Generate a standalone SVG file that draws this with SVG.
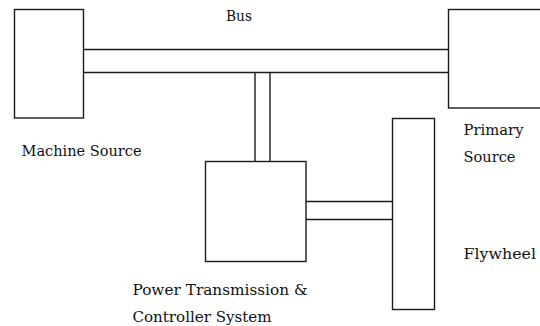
<svg xmlns="http://www.w3.org/2000/svg" width="540" height="326" viewBox="0 0 540 326">
<style>
.box{fill:#fff;stroke:#1a1a1a;stroke-width:1.4}
.ln{fill:none;stroke:#1a1a1a;stroke-width:1.4}
text{font-family:'DejaVu Serif',serif;font-size:14.5px;fill:#111}
</style>
<rect width="540" height="326" fill="#fff"/>
<g id="connectors">
<line class="ln" x1="83.5" y1="49.5" x2="448.5" y2="49.5"/>
<line class="ln" x1="83.5" y1="72.5" x2="448.5" y2="72.5"/>
<line class="ln" x1="255" y1="72.5" x2="255" y2="161.5"/>
<line class="ln" x1="270" y1="72.5" x2="270" y2="161.5"/>
<line class="ln" x1="306" y1="201.5" x2="392.5" y2="201.5"/>
<line class="ln" x1="306" y1="219.5" x2="392.5" y2="219.5"/>
<text x="226" y="21" textLength="26" lengthAdjust="spacingAndGlyphs">Bus</text>
</g>
<g id="machine-source">
<rect class="box" x="14.5" y="9.5" width="69" height="108.5"/>
<text x="21.5" y="155.5" textLength="120" lengthAdjust="spacingAndGlyphs">Machine Source</text>
</g>
<g id="primary-source">
<rect class="box" x="448.5" y="9.5" width="100" height="98.5"/>
<text x="463.5" y="135" textLength="60" lengthAdjust="spacingAndGlyphs">Primary</text>
<text x="463.5" y="161.5" textLength="52" lengthAdjust="spacingAndGlyphs">Source</text>
</g>
<g id="power-transmission">
<rect class="box" x="205.5" y="161.5" width="100.5" height="100"/>
<text x="132.5" y="294.5" textLength="175" lengthAdjust="spacingAndGlyphs">Power Transmission &amp;</text>
<text x="132.5" y="321.5" textLength="139" lengthAdjust="spacingAndGlyphs">Controller System</text>
</g>
<g id="flywheel">
<rect class="box" x="392.5" y="118.5" width="42" height="191"/>
<text x="463.5" y="258.5" textLength="72.5" lengthAdjust="spacingAndGlyphs">Flywheel</text>
</g>
</svg>
